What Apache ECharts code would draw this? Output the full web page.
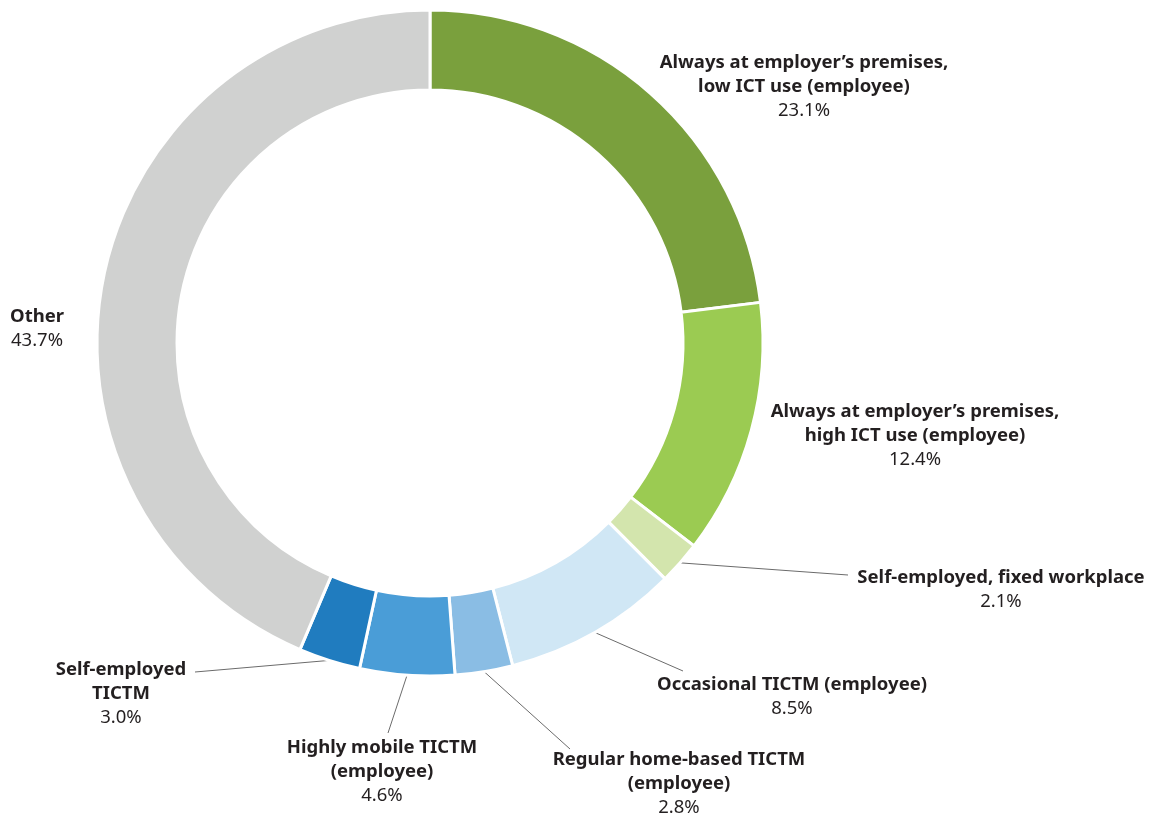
<!DOCTYPE html>
<html>
<head>
<meta charset="utf-8">
<script src="https://cdn.jsdelivr.net/npm/echarts@6/dist/echarts.min.js"></script>
<style>
  html, body { margin: 0; padding: 0; background: #fff; }
  #chart { width: 1154px; height: 816px; }
</style>
</head>
<body>
<div id="chart"></div>
<script>
// categories and shares (%)
const categories = [
  'Always at employer\u2019s premises,\nlow ICT use (employee)',
  'Always at employer\u2019s premises,\nhigh ICT use (employee)',
  'Self-employed, fixed workplace',
  'Occasional TICTM (employee)',
  'Regular home-based TICTM\n(employee)',
  'Highly mobile TICTM\n(employee)',
  'Self-employed\nTICTM',
  'Other'
];
const shares = [23.1, 12.4, 2.1, 8.5, 2.8, 4.6, 3.0, 43.7];
const colors = ['#7aa03d', '#9bcb52', '#d3e5ad', '#d0e7f5', '#8abde4', '#4a9dd7', '#207cbf', '#d0d1d0'];

// label anchor (center x, top y) and where the leader line ends (null = no line)
const labelAnchor = [
  [804, 51], [915, 400], [1001, 566], [792, 673],
  [679, 748], [382, 736], [121, 658], [37, 305]
];
const lineEnd = [
  null, null, [848, 575], [683, 671],
  [570, 749], [388, 733], [195, 672], null
];

const textColor = '#231f20';

let chart = echarts.init(document.getElementById('chart'));

let data = categories.map((name, i) => ({
  name: name,
  value: shares[i],
  itemStyle: { color: colors[i] },
  labelLine: { show: lineEnd[i] !== null }
}));

let option = {
  animation: false,
  series: [
    {
      type: 'pie',
      center: [430, 343],
      radius: [253, 333],
      startAngle: 90,
      clockwise: true,
      avoidLabelOverlap: false,
      itemStyle: { borderColor: '#fff', borderWidth: 3 },
      label: {
        show: true,
        position: 'outside',
        formatter: p => '{b|' + p.name.split('\n').join('}\n{b|') + '}\n{v|' + p.value.toFixed(1) + '%}',
        rich: {
          b: { fontFamily: 'Noto Sans', fontWeight: 'bold', fontSize: 18.5, lineHeight: 24, color: textColor, align: 'center' },
          v: { fontFamily: 'Noto Sans', fontSize: 18.5, lineHeight: 24, color: textColor, align: 'center' }
        }
      },
      labelLine: {
        show: true,
        length: 10,
        length2: 10,
        lineStyle: { color: '#6b6b6b', width: 1 }
      },
      labelLayout: params => {
        const i = params.dataIndex;
        const res = {
          x: labelAnchor[i][0],
          y: labelAnchor[i][1],
          align: 'center',
          verticalAlign: 'top'
        };
        if (lineEnd[i] && params.labelLinePoints) {
          res.labelLinePoints = [params.labelLinePoints[0], lineEnd[i]];
        }
        return res;
      },
      data: data
    }
  ]
};

chart.setOption(option);
</script>
</body>
</html>
